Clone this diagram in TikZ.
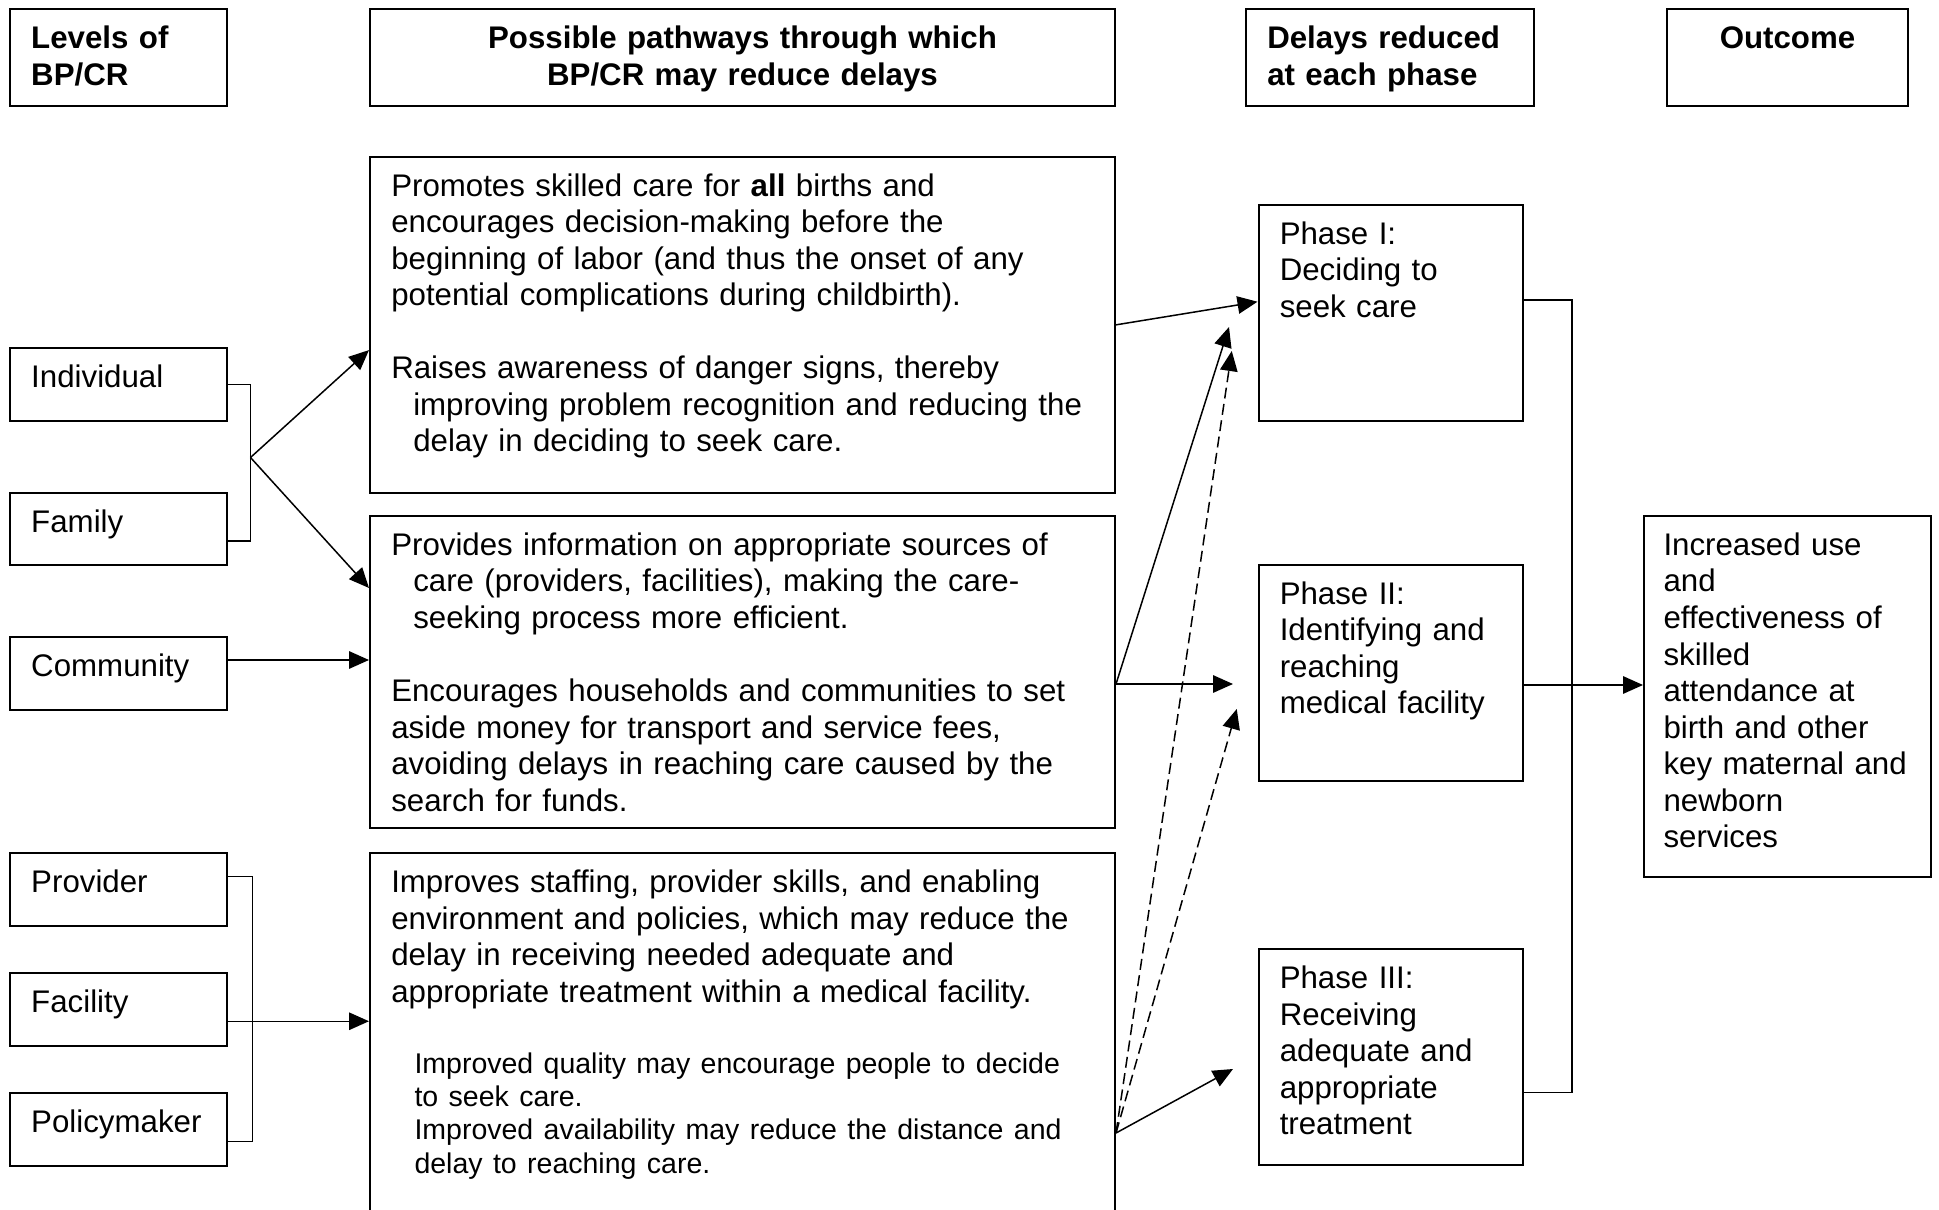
\documentclass[tikz,border=0pt]{standalone}
\usepackage{fontspec}
\setmainfont{Liberation Sans}
\usetikzlibrary{arrows.meta}

\begin{document}
\begin{tikzpicture}[x=0.4pt, y=-0.4pt,
  cell/.style 2 args={draw, line width=0.8pt, anchor=north west, align=left,
    inner xsep=8.5pt, inner ysep=0pt, text width=#1, text height=15.8pt, text depth=#2,
    font=\fontsize{12.5pt}{14.6pt}\selectfont},
  head/.style={font=\fontsize{12.5pt}{14.6pt}\selectfont\bfseries},
  arr/.style={-{Triangle[length=8pt,width=7pt]}, line width=0.6pt},
  link/.style={line width=0.6pt}]

\useasboundingbox (0,0) rectangle (1939,1210);
\clip (0,0) rectangle (1939,1210);

% column headings
\node[cell={69.8pt}{22.8pt}, head] (lev) at (9,8.5) {Levels of\\BP/CR};
\node[cell={281pt}{22.8pt}, head, align=center] (path) at (369,8.5) {Possible pathways through which\\BP/CR may reduce delays};
\node[cell={98.2pt}{22.8pt}, head] (del) at (1245,8.5) {Delays reduced\\at each phase};
\node[cell={79.4pt}{22.8pt}, head, align=center] (res) at (1666,8.5) {Outcome};

% levels
\node[cell={69.8pt}{13.2pt}] (ind) at (9,347.5) {Individual};
\node[cell={69.8pt}{13.2pt}] (fam) at (9,492) {Family};
\node[cell={69.8pt}{13.2pt}] (com) at (9,636) {Community};
\node[cell={69.8pt}{13.2pt}] (prov) at (9,852) {Provider};
\node[cell={69.8pt}{13.2pt}] (fac) at (9,972) {Facility};
\node[cell={69.8pt}{13.2pt}] (pol) at (9,1092) {Policymaker};

% pathways
\node[cell={281pt}{118.8pt}] (pathA) at (369,155.6) {Promotes skilled care for \textbf{all} births and\\
encourages decision-making before the\\
beginning of labor (and thus the onset of any\\
potential complications during childbirth).\\[14.6pt]
Raises awareness of danger signs, thereby\\
\hspace*{8.8pt}improving problem recognition and reducing the\\
\hspace*{8.8pt}delay in deciding to seek care.};
\node[cell={281pt}{109pt}] (pathB) at (369,515) {Provides information on appropriate sources of\\
\hspace*{8.8pt}care (providers, facilities), making the care-\\
\hspace*{8.8pt}seeking process more efficient.\\[14.6pt]
Encourages households and communities to set\\
aside money for transport and service fees,\\
avoiding delays in reaching care caused by the\\
search for funds.};
\node[cell={281pt}{139.4pt}] (pathC) at (369,852) {Improves staffing, provider skills, and enabling\\
environment and policies, which may reduce the\\
delay in receiving needed adequate and\\
appropriate treatment within a medical facility.\par
\vspace{15.2pt}{\fontsize{11.4pt}{13.3pt}\selectfont\leftskip=9.3pt
Improved quality may encourage people to decide\\
to seek care.\\
Improved availability may reduce the distance and\\
delay to reaching care.\par}};

% phases
\node[cell={88.8pt}{70.6pt}] (ph1) at (1257.5,204) {Phase I:\\Deciding to\\seek care};
\node[cell={88.8pt}{70.6pt}] (ph2) at (1257.5,564) {Phase II:\\Identifying and\\reaching\\medical facility};
\node[cell={88.8pt}{70.6pt}] (ph3) at (1257.5,948) {Phase III:\\Receiving\\adequate and\\appropriate\\treatment};

% outcome
\node[cell={99.2pt}{128.6pt}, inner xsep=7.8pt] (out) at (1643,515) {Increased use\\and\\effectiveness of\\skilled\\attendance at\\birth and other\\key maternal and\\newborn\\services};

% levels to pathways
\coordinate (jInd) at (250.5,457.5);
\draw[link] (ind.east) -| (jInd) |- ([yshift=-4.8pt]fam.east);
\draw[arr] (jInd) -- ([yshift=-10.1pt]pathA.west);
\draw[arr] (jInd) -- ([yshift=33.6pt]pathB.west);
\coordinate (cCom) at ([yshift=5.3pt]com.east);
\draw[arr] (cCom) -- (cCom -| pathB.west);
\draw[link] ([yshift=5.2pt]prov.east) -- ++(24.5,0) |- ([yshift=-4.8pt]pol.east);
\coordinate (cFac) at ([yshift=-4.8pt]fac.east);
\draw[arr] (cFac) -- (cFac -| pathC.west);

% pathways to phases
\draw[arr] (pathA.east) -- ([yshift=4.5pt]ph1.west);
\coordinate (sB) at ([yshift=-4.8pt]pathB.east);
\coordinate (tII) at ([xshift=-9.8pt]ph2.west);
\draw[arr] (sB) -- ([xshift=-11.4pt,yshift=-5.6pt]ph1.west);
\draw[arr] (sB) -- (sB -| tII);
\coordinate (sC) at ([yshift=-112.4pt]pathC.north east);
\draw[arr, dash pattern=on 4.4pt off 2.2pt] (sC) -- ([xshift=-10.3pt,yshift=-15.2pt]ph1.west);
\draw[arr, dash pattern=on 4.4pt off 2.2pt] (sC) -- ([xshift=-8.3pt,yshift=-14.4pt]ph2.west);
\draw[arr] (sC) -- ([xshift=-9.8pt,yshift=-4.8pt]ph3.west);

% phases to outcome
\draw[link] ([yshift=5.2pt]ph1.east) -- ++(48,0) |- ([yshift=-14.2pt]ph3.east);
\coordinate (sII) at ([yshift=-4.8pt]ph2.east);
\draw[arr] (sII) -- (sII -| out.west);
\end{tikzpicture}
\end{document}
